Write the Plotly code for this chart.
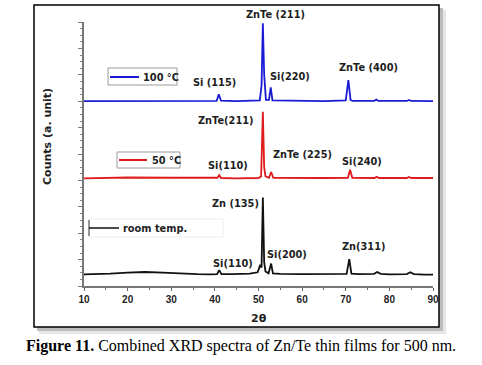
import plotly.graph_objects as go

# ---------------- data ----------------
two_theta_rt = [10, 13, 16, 20, 24, 28, 32, 36, 39, 40.5, 41.0, 41.5, 44, 48, 49.8, 50.4, 50.7,
                51.0, 51.3, 51.6, 52.3, 52.9, 53.3, 55, 60, 65, 70.2, 70.8, 71.3, 73, 76.5,
                77.2, 78, 80, 84, 84.8, 85.6, 88, 90]
counts_rt = [44, 45, 47, 51, 53, 51, 47, 45, 44, 45, 60, 45, 45, 47, 52, 80, 70,
             335, 90, 55, 48, 85, 48, 46, 45, 45, 46, 102, 47, 45, 46,
             53, 46, 44, 45, 52, 45, 43, 43]

two_theta_50 = [10, 20, 30, 40, 40.6, 41.0, 41.4, 45, 50, 50.6, 51.0, 51.3, 51.6, 52.4, 52.9,
                53.4, 60, 65, 70.5, 71.0, 71.5, 76.6, 77.1, 77.6, 80, 84, 84.5, 85, 90]
counts_50 = [408, 411, 410, 409, 410, 420, 409, 408, 409, 415, 660, 450, 415, 410, 432,
             410, 408, 409, 410, 440, 410, 409, 414, 409, 409, 409, 413, 409, 409]

two_theta_100 = [10, 20, 30, 35, 40.4, 40.9, 41.4, 45, 50.3, 50.7, 51.0, 51.3, 51.7, 52.4, 52.8,
                 53.2, 60, 65, 70.0, 70.6, 71.1, 71.6, 76.5, 77.0, 77.5, 84.0, 84.5, 85, 90]
counts_100 = [700, 701, 700, 701, 701, 726, 702, 700, 703, 760, 995, 800, 705, 705, 752,
              703, 700, 700, 703, 780, 705, 701, 701, 706, 701, 701, 705, 701, 700]

series_names = ["room temp.", "50 \u00b0C", "100 \u00b0C"]
series_colors = ["#111111", "#e01b1b", "#1b1bd6"]

x_tick_vals = [10, 20, 30, 40, 50, 60, 70, 80, 90]

peak_labels = ["ZnTe (211)", "Si(220)", "ZnTe (400)", "Si (115)",
               "ZnTe(211)", "ZnTe (225)", "Si(240)", "Si(110)",
               "Zn (135)", "Si(200)", "Zn(311)", "Si(110)"]

# ---------------- layout geometry (pixels) ----------------
W, H = 482, 365
L, R, T, B = 84, 433, 22, 286  # plot area in pixels


def px(xp):
    return (xp - L) / (R - L)


def py(yp):
    return (B - yp) / (B - T)


label_pos = [(275, 14), (290, 76), (368, 68), (214, 82),
             (226, 120), (302, 154), (362, 161), (228, 165),
             (235, 203), (287, 254), (363, 246), (233, 263)]

fig = go.Figure()
for xs, ys, name, col in [(two_theta_rt, counts_rt, series_names[0], series_colors[0]),
                          (two_theta_50, counts_50, series_names[1], series_colors[1]),
                          (two_theta_100, counts_100, series_names[2], series_colors[2])]:
    fig.add_trace(go.Scatter(x=xs, y=ys, mode="lines", name=name,
                             line=dict(color=col, width=1.8), showlegend=False))

shapes = []
# outer framed box with shadow
shapes.append(dict(type="rect", xref="paper", yref="paper", layer="below",
                   x0=px(39), x1=px(446), y0=py(10), y1=py(334),
                   fillcolor="#e6e6e6", line=dict(width=0)))
shapes.append(dict(type="rect", xref="paper", yref="paper", layer="below",
                   x0=px(37), x1=px(443), y0=py(8), y1=py(331),
                   fillcolor="#bdbdbd", line=dict(width=0)))
shapes.append(dict(type="rect", xref="paper", yref="paper", layer="below",
                   x0=px(34), x1=px(439), y0=py(5), y1=py(327),
                   fillcolor="white", line=dict(color="black", width=1.5)))

# legend boxes
shapes.append(dict(type="rect", xref="paper", yref="paper",
                   x0=px(108), x1=px(177), y0=py(68), y1=py(85),
                   fillcolor="white", line=dict(color="#9a9a9a", width=1)))
shapes.append(dict(type="line", xref="paper", yref="paper",
                   x0=px(110), x1=px(139), y0=py(77), y1=py(77),
                   line=dict(color=series_colors[2], width=2)))
shapes.append(dict(type="rect", xref="paper", yref="paper",
                   x0=px(117), x1=px(180), y0=py(152), y1=py(168),
                   fillcolor="white", line=dict(color="#9a9a9a", width=1)))
shapes.append(dict(type="line", xref="paper", yref="paper",
                   x0=px(119), x1=px(147), y0=py(160), y1=py(160),
                   line=dict(color=series_colors[1], width=2)))
shapes.append(dict(type="rect", xref="paper", yref="paper",
                   x0=px(89), x1=px(223), y0=py(219), y1=py(237),
                   fillcolor="rgba(0,0,0,0)", line=dict(color="#ececec", width=1)))
shapes.append(dict(type="line", xref="paper", yref="paper",
                   x0=px(89), x1=px(89), y0=py(220), y1=py(236),
                   line=dict(color="#555555", width=1.2)))
shapes.append(dict(type="line", xref="paper", yref="paper",
                   x0=px(89), x1=px(119), y0=py(228), y1=py(228),
                   line=dict(color=series_colors[0], width=1.5)))

annotations = []
lab_font = dict(family="DejaVu Sans", size=9.8, color="#1e1e1e", weight="bold")
for txt, (xp, yp) in zip(peak_labels, label_pos):
    annotations.append(dict(text=txt, xref="paper", yref="paper", x=px(xp), y=py(yp),
                            xanchor="center", yanchor="middle", showarrow=False, font=lab_font))

leg_font = dict(family="DejaVu Sans", size=9.8, color="#1e1e1e", weight="bold")
for txt, (xp, yp) in zip([series_names[2], series_names[1], series_names[0]],
                         [(141, 77), (150, 160), (121, 228)]):
    annotations.append(dict(text=txt, xref="paper", yref="paper", x=px(xp), y=py(yp),
                            xanchor="left", yanchor="middle", showarrow=False, font=leg_font))

# axis titles
annotations.append(dict(text="Counts (a. unit)", xref="paper", yref="paper",
                        x=px(47), y=py(137), textangle=-90, xanchor="center", yanchor="middle",
                        showarrow=False,
                        font=dict(family="DejaVu Sans", size=11, color="#1e1e1e", weight="bold")))
annotations.append(dict(text="2\u03b8", xref="paper", yref="paper",
                        x=px(259), y=py(318), xanchor="center", yanchor="middle", showarrow=False,
                        font=dict(family="DejaVu Sans", size=11, color="#1e1e1e", weight="bold")))
# caption
annotations.append(dict(text="<b>Figure 11.</b> Combined XRD spectra of Zn/Te thin films for 500 nm.",
                        xref="paper", yref="paper", x=px(241), y=py(346),
                        xanchor="center", yanchor="middle", showarrow=False,
                        font=dict(family="Liberation Serif", size=16, color="black")))

fig.update_layout(
    width=W, height=H,
    margin=dict(l=L, r=W - R, t=T, b=H - B, pad=0),
    paper_bgcolor="white", plot_bgcolor="rgba(0,0,0,0)",
    shapes=shapes, annotations=annotations, hovermode=False,
    xaxis=dict(range=[10, 90], tickvals=x_tick_vals, ticks="outside", ticklen=3,
               tickcolor="#666666", showline=True, linecolor="#777777", linewidth=1.5,
               showgrid=False, zeroline=False,
               tickfont=dict(family="Liberation Sans", size=10, color="#1e1e1e", weight="bold"),
               minor=dict(dtick=5, ticks="outside", ticklen=2, tickcolor="#666666")),
    yaxis=dict(range=[0, 1000], dtick=100, tick0=0, ticks="outside", ticklen=4,
               tickcolor="#777777", showline=True, linecolor="#777777", linewidth=1.5,
               showgrid=False, zeroline=False, showticklabels=False,
               minor=dict(dtick=25, ticks="outside", ticklen=2, tickcolor="#888888")),
)

fig.write_html("out.html", config={"displayModeBar": False},
               post_script="document.body.style.margin='0';document.body.style.overflow='hidden';")
